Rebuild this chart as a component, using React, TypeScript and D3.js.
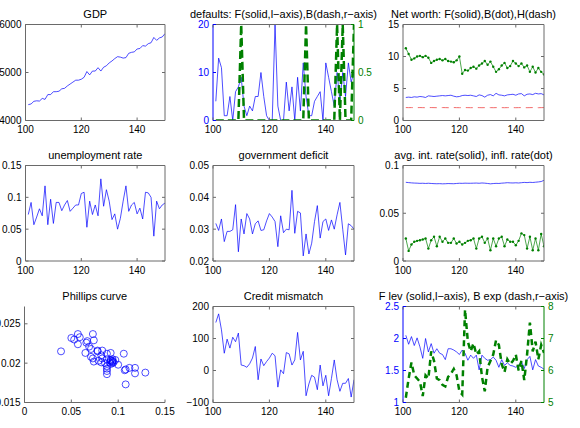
import React from "react";
import * as d3 from "d3";

// ---------- data ----------
const periods = d3.range(101, 151);

const gdp = [4330, 4345, 4400, 4410, 4405, 4460, 4440, 4540, 4540, 4600, 4600, 4610, 4660, 4670, 4720, 4760, 4800, 4840, 4840, 4860, 4900, 5020, 4950, 5030, 5030, 5100, 5030, 5110, 5140, 5200, 5240, 5290, 5330, 5320, 5300, 5310, 5400, 5420, 5430, 5490, 5500, 5560, 5550, 5600, 5620, 5730, 5670, 5720, 5740, 5810];

const firmDefaults = [4, 13, 11, 1, 1, 5, 0, 6, 7, 9, 3, 1, 3, 2, 5, 5, 10, 5, 1, 0, 0, 20, 3, 0, 0, 8, 2, 7, 0, 9, 2, 12, 5, 1, 1, 4, 5, 6, 0, 12, 9, 6, 3, 10, 4, 10, 5, 12, 8, 10];
const bankDefaults = [0, 0, 0, 0, 0, 0, 0, 0, 0, 1, 0, 0, 0, 0, 0, 0, 0, 0, 0, 0, 0, 0, 0, 0, 0, 0, 0, 0, 0, 0, 0, 0, 1, 0, 0, 0, 0, 0, 0, 0, 0, 0, 0, 1, 0, 1, 0, 0, 0, 1];

const netWorthF = [3.6, 3.65, 3.6, 3.7, 3.65, 3.75, 3.7, 3.6, 3.85, 3.8, 3.75, 3.8, 3.85, 3.9, 3.85, 3.9, 3.95, 3.8, 3.7, 3.75, 3.9, 3.95, 3.9, 3.95, 3.85, 3.75, 4.0, 3.9, 3.65, 3.95, 4.05, 3.85, 4.25, 4.0, 3.95, 3.85, 4.0, 4.05, 4.1, 3.95, 4.15, 4.2, 3.85, 4.1, 4.15, 4.05, 4.25, 4.15, 4.2, 4.0];
const netWorthB = [11.3, 10.4, 9.5, 9.7, 10.0, 10.1, 9.9, 10.1, 9.8, 9.0, 9.3, 9.5, 9.6, 9.4, 9.6, 9.3, 9.2, 9.1, 9.4, 10.0, 7.3, 7.9, 7.8, 8.2, 8.4, 8.1, 8.6, 8.9, 9.3, 8.7, 9.2, 8.4, 7.6, 8.0, 8.6, 9.0, 8.2, 8.5, 9.3, 8.9, 8.5, 8.9, 8.3, 8.6, 7.6, 8.4, 7.5, 8.2, 7.6, 7.2];
const netWorthH = [2.02, 2.01, 2.02, 2.0, 2.01, 2.02, 2.01, 2.0, 2.01, 2.02, 2.01, 2.0, 2.01, 2.02, 2.01, 2.0, 2.01, 2.02, 2.01, 2.0, 2.01, 2.02, 2.01, 2.0, 2.01, 2.02, 2.01, 2.0, 2.01, 2.02, 2.01, 2.0, 2.01, 2.02, 2.01, 2.0, 2.01, 2.02, 2.01, 2.0, 2.01, 2.02, 2.01, 2.0, 2.01, 2.02, 2.01, 2.0, 2.01, 2.02];

const unemployment = [0.073, 0.092, 0.057, 0.069, 0.082, 0.071, 0.118, 0.057, 0.097, 0.059, 0.092, 0.092, 0.079, 0.088, 0.095, 0.078, 0.083, 0.088, 0.088, 0.106, 0.108, 0.053, 0.094, 0.073, 0.088, 0.071, 0.129, 0.086, 0.112, 0.094, 0.065, 0.074, 0.050, 0.067, 0.094, 0.118, 0.078, 0.088, 0.092, 0.074, 0.083, 0.066, 0.108, 0.107, 0.100, 0.039, 0.094, 0.082, 0.088, 0.091];

const govDeficit = [0.0318, 0.0296, 0.0332, 0.0261, 0.0293, 0.0293, 0.0298, 0.0377, 0.0229, 0.0332, 0.0285, 0.0349, 0.0332, 0.0285, 0.0317, 0.0326, 0.0296, 0.0298, 0.0326, 0.0349, 0.0338, 0.0324, 0.0245, 0.0342, 0.0289, 0.03, 0.0298, 0.0422, 0.0287, 0.0356, 0.0351, 0.0216, 0.0285, 0.0222, 0.0256, 0.0324, 0.0374, 0.0272, 0.0324, 0.0332, 0.0296, 0.0329, 0.03, 0.0345, 0.0384, 0.03, 0.0219, 0.0317, 0.0311, 0.03];

const avgIntRate = [0.0824, 0.0821, 0.0818, 0.0816, 0.0815, 0.0813, 0.0814, 0.0812, 0.0814, 0.0812, 0.081, 0.0809, 0.081, 0.0808, 0.0809, 0.0811, 0.081, 0.0809, 0.0812, 0.0814, 0.0813, 0.0815, 0.0814, 0.0814, 0.0815, 0.0816, 0.0814, 0.0817, 0.0815, 0.0812, 0.0808, 0.0811, 0.0813, 0.0812, 0.0815, 0.0817, 0.082, 0.0818, 0.0817, 0.0819, 0.0817, 0.082, 0.0823, 0.0821, 0.0824, 0.0822, 0.0825, 0.0828, 0.0832, 0.0845];
const inflRate = [0.0236, 0.0106, 0.0173, 0.0201, 0.0211, 0.0218, 0.0225, 0.0236, 0.013, 0.0218, 0.0254, 0.0155, 0.0254, 0.0201, 0.0236, 0.019, 0.019, 0.0236, 0.0183, 0.0201, 0.0173, 0.019, 0.0211, 0.0218, 0.0236, 0.013, 0.0236, 0.0254, 0.019, 0.0236, 0.0113, 0.0236, 0.0155, 0.0236, 0.0254, 0.0155, 0.0225, 0.0201, 0.0201, 0.0165, 0.0211, 0.0289, 0.0271, 0.013, 0.0254, 0.0113, 0.0236, 0.0113, 0.0282, 0.0155];

const phillipsY = [0.0237, 0.0204, 0.0224, 0.0221, 0.0201, 0.0208, 0.0194, 0.0237, 0.0204, 0.0233, 0.0199, 0.0203, 0.0203, 0.019, 0.0201, 0.0216, 0.0216, 0.0186, 0.0196, 0.0212, 0.0192, 0.023, 0.0202, 0.0206, 0.0205, 0.0218, 0.0188, 0.02, 0.0194, 0.0205, 0.0213, 0.0202, 0.0232, 0.0228, 0.02, 0.0187, 0.0215, 0.0212, 0.0213, 0.0229, 0.0206, 0.0226, 0.0173, 0.0191, 0.0198, 0.0215, 0.0203, 0.021, 0.0193, 0.0201];

const creditMismatch = [150, 177, 127, 54, 98, 70, 104, 90, 117, 17, 15, 10, 21, 39, 75, -29, 36, 15, 28, 39, 54, 46, -52, 2, -10, 56, 52, 17, 33, 119, 33, 60, -79, -42, -15, -21, -60, 17, -48, -15, -79, -25, 33, -29, -65, -40, -40, -25, -83, -29];

const firmLeverage = [2.05, 1.91, 2.03, 1.89, 2.01, 1.87, 1.69, 2.0, 1.79, 1.92, 1.77, 1.84, 1.77, 1.75, 1.67, 1.84, 1.84, 1.82, 1.79, 1.75, 1.82, 1.77, 1.66, 1.74, 1.69, 1.74, 1.51, 1.74, 1.69, 1.66, 1.67, 1.71, 1.66, 1.55, 1.67, 1.58, 1.62, 1.58, 1.57, 1.55, 1.58, 1.64, 1.53, 1.67, 1.72, 1.51, 1.67, 1.57, 1.55, 1.52];
const bankExposure = [5.15, 5.75, 6.25, 5.85, 5.75, 5.65, 5.2, 5.85, 5.75, 6.6, 6.3, 5.75, 5.7, 5.55, 5.5, 5.8, 5.9, 6.05, 5.85, 5.35, 5.25, 7.9, 6.9, 6.6, 6.85, 6.5, 6.6, 5.8, 5.35, 6.1, 6.3, 6.5, 6.95, 6.8, 6.2, 5.95, 6.35, 6.2, 6.3, 6.5, 6.0, 6.3, 5.7, 6.5, 7.5, 6.6, 6.9, 6.35, 6.8, 6.55];

const timeTicks = [100, 120, 140];
const timeDomain = [100, 150];

// ---------- styling ----------
const FONT = "'Liberation Sans', Arial, Helvetica, sans-serif";
const AXIS = "#6a6a6a";
const BLUE = "#0000ff";
const GREEN = "#008000";
const RED = "#f05a5a";

const cols = [[25.5, 165], [213, 354], [403, 544]];
const rows = [[24.5, 120.5], [165.5, 261], [306.5, 402.5]];

type Side = { domain: number[]; ticks: number[]; labels: string[]; color?: string };

type PanelProps = {
  id: string;
  col: number[];
  row: number[];
  title: string;
  xDomain?: number[];
  xTicks?: number[];
  xLabels?: string[];
  left: Side;
  right?: Side;
  box?: boolean;
  leftX?: number;
  children: (x: any, y: any, y2: any) => React.ReactNode;
};

function Panel(p: PanelProps) {
  const L = p.leftX ?? p.col[0];
  const R = p.col[1];
  const T = p.row[0];
  const B = p.row[1];
  const x = d3.scaleLinear().domain(p.xDomain ?? timeDomain).range([L, R]);
  const y = d3.scaleLinear().domain(p.left.domain).range([B, T]);
  const y2 = p.right ? d3.scaleLinear().domain(p.right.domain).range([B, T]) : null;
  const box = p.box !== false;
  const xTicks = p.xTicks ?? timeTicks;
  const xLabels = p.xLabels ?? timeTicks.map(String);
  const lc = p.left.color ?? AXIS;
  const lt = p.left.color ?? "#000";
  const rc = p.right?.color ?? AXIS;
  const tl = 3;
  return (
    <g>
      <defs>
        <clipPath id={p.id}>
          <rect x={L} y={T} width={R - L} height={B - T} />
        </clipPath>
      </defs>
      <text x={(L + R) / 2} y={T - 7} textAnchor="middle" fontSize={11} fontFamily={FONT}>
        {p.title}
      </text>
      <g clipPath={`url(#${p.id})`}>{p.children(x, y, y2)}</g>
      {/* frame */}
      <line x1={L} x2={R} y1={B} y2={B} stroke={AXIS} strokeWidth={1} />
      {box && <line x1={L} x2={R} y1={T} y2={T} stroke={AXIS} strokeWidth={1} />}
      <line x1={L} x2={L} y1={T} y2={B} stroke={lc} strokeWidth={1} />
      {(box || p.right) && <line x1={R} x2={R} y1={T} y2={B} stroke={rc} strokeWidth={1} />}
      {/* x ticks */}
      {xTicks.map((t, i) => (
        <g key={"x" + i}>
          <line x1={x(t)} x2={x(t)} y1={B} y2={B - tl} stroke={AXIS} />
          {box && <line x1={x(t)} x2={x(t)} y1={T} y2={T + tl} stroke={AXIS} />}
          <text x={x(t)} y={B + 12.5} textAnchor="middle" fontSize={10} fontFamily={FONT}>
            {xLabels[i]}
          </text>
        </g>
      ))}
      {/* left ticks */}
      {p.left.ticks.map((t, i) => (
        <g key={"l" + i}>
          <line x1={L} x2={L + tl} y1={y(t)} y2={y(t)} stroke={lc} />
          {box && !p.right && <line x1={R} x2={R - tl} y1={y(t)} y2={y(t)} stroke={AXIS} />}
          <text x={L - 4} y={y(t) + 3.5} textAnchor="end" fontSize={10} fontFamily={FONT} fill={lt}>
            {p.left.labels[i]}
          </text>
        </g>
      ))}
      {p.right && y2 &&
        p.right.ticks.map((t, i) => (
          <g key={"r" + i}>
            <line x1={R} x2={R - tl} y1={y2(t)} y2={y2(t)} stroke={rc} />
            <text x={R + 4} y={y2(t) + 3.5} textAnchor="start" fontSize={10} fontFamily={FONT} fill={p.right!.color}>
              {p.right!.labels[i]}
            </text>
          </g>
        ))}
    </g>
  );
}

function linePath(xs: number[], ys: number[], x: any, y: any) {
  const gen = d3.line<number>().x((_, i) => x(xs[i])).y((d) => y(d));
  return gen(ys) ?? "";
}

export default function App() {
  return (
    <svg width={580} height={428} style={{ position: "absolute", left: 0, top: 0, background: "#fff" }}>
      <rect width={580} height={428} fill="#fff" />
      {/* Row 1 */}
      <Panel
        id="c1"
        col={cols[0]}
        row={rows[0]}
        title="GDP"
        left={{ domain: [4000, 6000], ticks: [4000, 5000, 6000], labels: ["4000", "5000", "6000"] }}
      >
        {(x, y) => <path d={linePath(periods, gdp, x, y)} fill="none" stroke={BLUE} strokeWidth={0.7} />}
      </Panel>
      <Panel
        id="c2"
        col={cols[1]}
        row={rows[0]}
        title="defaults: F(solid,l−axis),B(dash,r−axis)"
        left={{ domain: [0, 20], ticks: [0, 10, 20], labels: ["0", "10", "20"], color: BLUE }}
        right={{ domain: [0, 1], ticks: [0, 0.5, 1], labels: ["0", "0.5", "1"], color: GREEN }}
      >
        {(x, y, y2) => (
          <>
            <path d={linePath(periods, firmDefaults, x, y)} fill="none" stroke={BLUE} strokeWidth={0.7} />
            <path d={linePath(periods, bankDefaults, x, y2)} fill="none" stroke={GREEN} strokeWidth={2.5} strokeDasharray="8,4" />
          </>
        )}
      </Panel>
      <Panel
        id="c3"
        col={cols[2]}
        row={rows[0]}
        title="Net worth: F(solid),B(dot),H(dash)"
        left={{ domain: [0, 15], ticks: [0, 5, 10, 15], labels: ["0", "5", "10", "15"] }}
      >
        {(x, y) => (
          <>
            <path d={linePath(periods, netWorthF, x, y)} fill="none" stroke={BLUE} strokeWidth={0.7} />
            <path d={linePath(periods, netWorthH, x, y)} fill="none" stroke={RED} strokeWidth={0.9} strokeDasharray="7,5" />
            <path d={linePath(periods, netWorthB, x, y)} fill="none" stroke={GREEN} strokeWidth={0.7} />
            {netWorthB.map((v, i) => (
              <circle key={i} cx={x(periods[i])} cy={y(v)} r={1.2} fill={GREEN} />
            ))}
          </>
        )}
      </Panel>

      {/* Row 2 */}
      <Panel
        id="c4"
        col={cols[0]}
        row={rows[1]}
        title="unemployment rate"
        left={{ domain: [0, 0.15], ticks: [0, 0.05, 0.1, 0.15], labels: ["0", "0.05", "0.1", "0.15"] }}
      >
        {(x, y) => <path d={linePath(periods, unemployment, x, y)} fill="none" stroke={BLUE} strokeWidth={0.7} />}
      </Panel>
      <Panel
        id="c5"
        col={cols[1]}
        row={rows[1]}
        title="government deficit"
        left={{ domain: [0.02, 0.05], ticks: [0.02, 0.03, 0.04, 0.05], labels: ["0.02", "0.03", "0.04", "0.05"] }}
      >
        {(x, y) => <path d={linePath(periods, govDeficit, x, y)} fill="none" stroke={BLUE} strokeWidth={0.7} />}
      </Panel>
      <Panel
        id="c6"
        col={cols[2]}
        row={rows[1]}
        title="avg. int. rate(solid), infl. rate(dot)"
        left={{ domain: [0, 0.1], ticks: [0, 0.05, 0.1], labels: ["0", "0.05", "0.1"] }}
      >
        {(x, y) => (
          <>
            <path d={linePath(periods, avgIntRate, x, y)} fill="none" stroke={BLUE} strokeWidth={0.7} />
            <path d={linePath(periods, inflRate, x, y)} fill="none" stroke={GREEN} strokeWidth={0.7} />
            {inflRate.map((v, i) => (
              <circle key={i} cx={x(periods[i])} cy={y(v)} r={1.2} fill={GREEN} />
            ))}
          </>
        )}
      </Panel>

      {/* Row 3 */}
      <Panel
        id="c7"
        col={cols[0]}
        row={rows[2]}
        leftX={24.5}
        box={false}
        title="Phillips curve"
        xDomain={[0, 0.15]}
        xTicks={[0, 0.05, 0.1, 0.15]}
        xLabels={["0", "0.05", "0.1", "0.15"]}
        left={{ domain: [0.015, 0.0272], ticks: [0.015, 0.02, 0.025], labels: ["0.015", "0.02", "0.025"] }}
      >
        {(x, y) => (
          <>
            {unemployment.map((u, i) => (
              <circle key={i} cx={x(u)} cy={y(phillipsY[i])} r={3.5} fill="none" stroke={BLUE} strokeWidth={0.7} />
            ))}
          </>
        )}
      </Panel>
      <Panel
        id="c8"
        col={cols[1]}
        row={rows[2]}
        title="Credit mismatch"
        left={{ domain: [-100, 200], ticks: [-100, 0, 100, 200], labels: ["−100", "0", "100", "200"] }}
      >
        {(x, y) => <path d={linePath(periods, creditMismatch, x, y)} fill="none" stroke={BLUE} strokeWidth={0.7} />}
      </Panel>
      <Panel
        id="c9"
        col={cols[2]}
        row={rows[2]}
        title="F lev (solid,l−axis), B exp (dash,r−axis)"
        left={{ domain: [1, 2.5], ticks: [1, 1.5, 2, 2.5], labels: ["1", "1.5", "2", "2.5"], color: BLUE }}
        right={{ domain: [5, 8], ticks: [5, 6, 7, 8], labels: ["5", "6", "7", "8"], color: GREEN }}
      >
        {(x, y, y2) => (
          <>
            <path d={linePath(periods, firmLeverage, x, y)} fill="none" stroke={BLUE} strokeWidth={0.7} />
            <path d={linePath(periods, bankExposure, x, y2)} fill="none" stroke={GREEN} strokeWidth={2.5} strokeDasharray="6,4" />
          </>
        )}
      </Panel>
    </svg>
  );
}
